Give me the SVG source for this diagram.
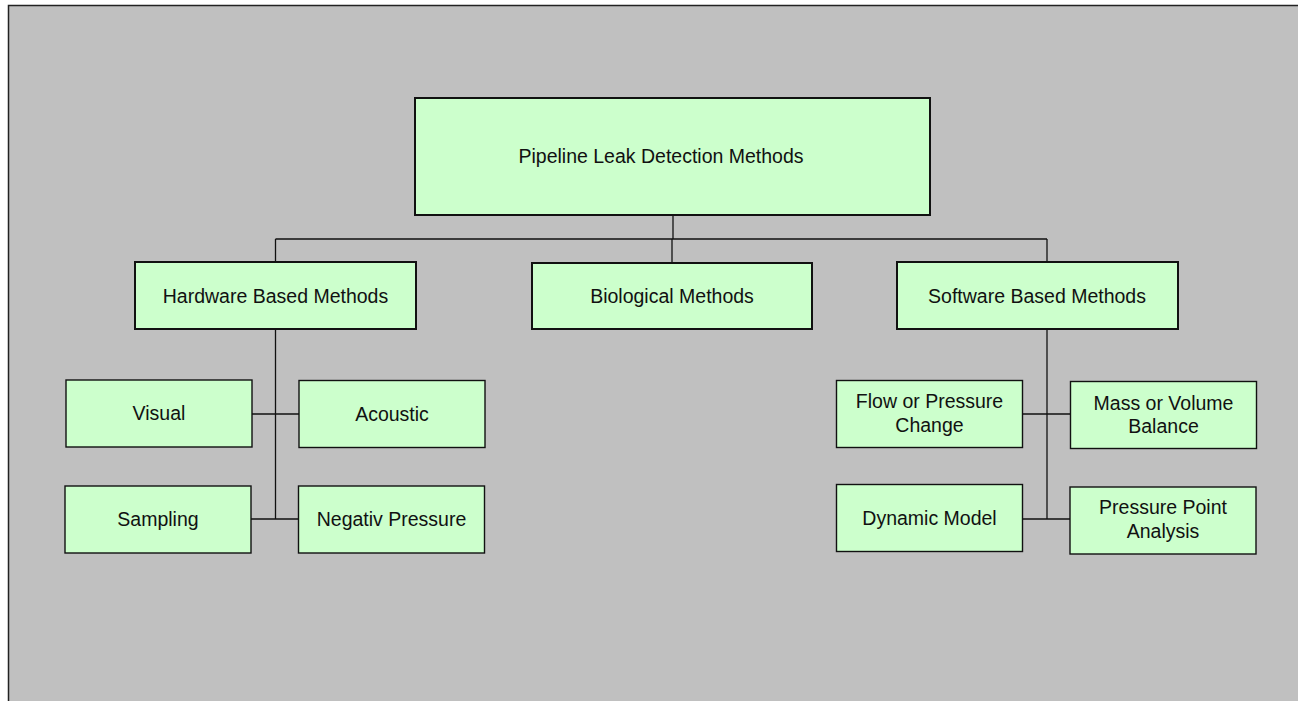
<svg xmlns="http://www.w3.org/2000/svg" width="1298" height="701" viewBox="0 0 1298 701">
<style>
.n rect{fill:#ccffcc;stroke:#111;stroke-width:1.4}
.m rect{stroke-width:2}
text{font-family:"Liberation Sans",Arial,sans-serif;font-size:19.5px;fill:#111;text-anchor:middle}
.c line{stroke:#111;stroke-width:1.3}
</style>
<rect x="0" y="0" width="1298" height="701" fill="#ffffff"/>
<rect x="8.5" y="5.5" width="1300" height="700" fill="#c0c0c0" stroke="#222" stroke-width="1.5"/>
<g class="c" id="connectors">
<line x1="673" y1="215" x2="673" y2="239"/>
<line x1="275.5" y1="239" x2="1047" y2="239"/>
<line x1="275.5" y1="239" x2="275.5" y2="262"/>
<line x1="672" y1="239" x2="672" y2="263"/>
<line x1="1047" y1="239" x2="1047" y2="262"/>
<line x1="275.5" y1="329" x2="275.5" y2="519"/>
<line x1="252" y1="414" x2="299" y2="414"/>
<line x1="251" y1="519" x2="298" y2="519"/>
<line x1="1047" y1="329" x2="1047" y2="519"/>
<line x1="1022" y1="414" x2="1070" y2="414"/>
<line x1="1022" y1="519" x2="1070" y2="519"/>
</g>
<g class="n m" id="root"><rect x="415" y="98" width="515" height="117"/><text x="661" y="162.5">Pipeline Leak Detection Methods</text></g>
<g class="n m" id="hardware"><rect x="135" y="262" width="281" height="67"/><text x="275.5" y="302.5">Hardware Based Methods</text></g>
<g class="n m" id="biological"><rect x="532" y="263" width="280" height="66"/><text x="672" y="303">Biological Methods</text></g>
<g class="n m" id="software"><rect x="897" y="262" width="281" height="67"/><text x="1037" y="302.5">Software Based Methods</text></g>
<g class="n" id="visual"><rect x="66" y="380" width="186" height="67"/><text x="159" y="420">Visual</text></g>
<g class="n" id="acoustic"><rect x="299" y="380.5" width="186" height="67"/><text x="392" y="420.5">Acoustic</text></g>
<g class="n" id="sampling"><rect x="65" y="486" width="186" height="67"/><text x="158" y="526">Sampling</text></g>
<g class="n" id="negativ"><rect x="298.5" y="486" width="186" height="67"/><text x="391.5" y="526">Negativ Pressure</text></g>
<g class="n" id="flow"><rect x="836.5" y="380.5" width="186" height="67"/><text x="929.5" y="408">Flow or Pressure</text><text x="929.5" y="432">Change</text></g>
<g class="n" id="mass"><rect x="1070.5" y="381.5" width="186" height="67"/><text x="1163.5" y="409.5">Mass or Volume</text><text x="1163.5" y="433">Balance</text></g>
<g class="n" id="dynamic"><rect x="836.5" y="484.5" width="186" height="67"/><text x="929.5" y="524.5">Dynamic Model</text></g>
<g class="n" id="pressurepoint"><rect x="1070" y="487" width="186" height="67"/><text x="1163" y="514">Pressure Point</text><text x="1163" y="538">Analysis</text></g>
</svg>
